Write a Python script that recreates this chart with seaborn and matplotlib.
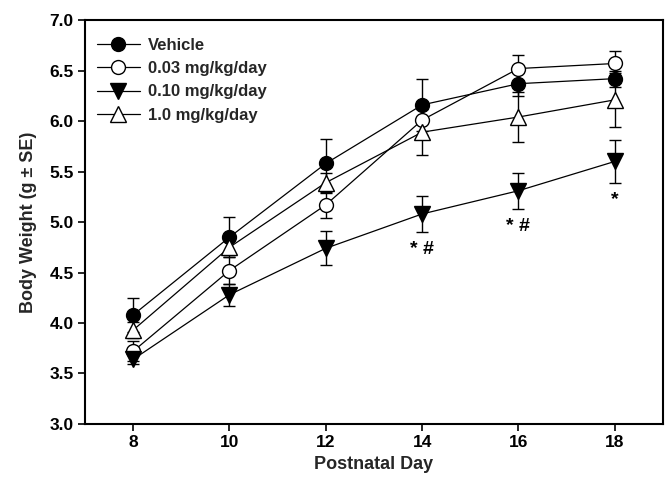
import numpy as np
import pandas as pd
import matplotlib
matplotlib.use("Agg")
import matplotlib.pyplot as plt
import seaborn as sns
from matplotlib.lines import Line2D

# Postnatal days and group body weights (g) with standard errors
days = [8, 10, 12, 14, 16, 18]
groups = ["Vehicle", "0.03 mg/kg/day", "0.10 mg/kg/day", "1.0 mg/kg/day"]
vehicle = [4.08, 4.85, 5.58, 6.16, 6.37, 6.42]
vehicle_se = [0.17, 0.20, 0.24, 0.26, 0.12, 0.08]
dose_003 = [3.72, 4.52, 5.17, 6.01, 6.52, 6.57]
dose_003_se = [0.10, 0.13, 0.13, 0.15, 0.13, 0.12]
dose_010 = [3.64, 4.28, 4.74, 5.08, 5.31, 5.60]
dose_010_se = [0.05, 0.11, 0.17, 0.18, 0.18, 0.21]
dose_10 = [3.93, 4.75, 5.39, 5.89, 6.04, 6.21]
dose_10_se = [0.08, 0.08, 0.10, 0.23, 0.25, 0.27]

# Significance marks below the 0.10 mg/kg/day group
sig_days = [14, 16, 18]
sig_labels = ["* #", "* #", "*"]

sns.set_theme(style="ticks")
plt.rcParams["font.family"] = ["Liberation Sans", "DejaVu Sans"]
plt.rcParams["font.weight"] = "bold"

fig = plt.figure(figsize=(6.67, 4.78), dpi=100)
ax = fig.add_axes([0.1274, 0.113, 0.8666, 0.845])

series = [
    (groups[0], vehicle, vehicle_se, "o", "black"),
    (groups[1], dose_003, dose_003_se, "o", "white"),
    (groups[2], dose_010, dose_010_se, "v", "black"),
    (groups[3], dose_10, dose_10_se, "^", "white"),
]

frames = []
for name, vals, se, _, _ in series:
    frames.append(pd.DataFrame({"day": days, "weight": vals, "se": se, "group": name}))
df = pd.concat(frames, ignore_index=True)

handles = []
for i, (name, vals, se, mk, fc) in enumerate(series):
    sub = df[df["group"] == name]
    ms = 10 if mk == "o" else 11
    ax.errorbar(sub["day"], sub["weight"], yerr=sub["se"], fmt="none",
                ecolor="black", elinewidth=1.0, capsize=4.5, capthick=1.0,
                zorder=2 + i * 0.1)
    sns.lineplot(data=sub, x="day", y="weight", ax=ax, color="black",
                 linewidth=0.9, marker=mk, markersize=ms,
                 markerfacecolor=fc, markeredgecolor="black",
                 markeredgewidth=1.0, errorbar=None, legend=False,
                 zorder=3 + i * 0.1)
    handles.append(Line2D([0], [0], color="black", linewidth=0.9, marker=mk,
                          markersize=ms, markerfacecolor=fc,
                          markeredgecolor="black", markeredgewidth=1.0))

for d, lab in zip(sig_days, sig_labels):
    idx = days.index(d)
    y = dose_010[idx] - dose_010_se[idx] - 0.17
    ax.text(d, y, lab, ha="center", va="center", fontsize=14,
            fontweight="bold", color="black")

ax.set_xlim(7, 19)
ax.set_ylim(3.0, 7.0)
ax.set_xticks(days)
yt = np.arange(3.0, 7.01, 0.5)
ax.set_yticks(yt)
ax.set_yticklabels([f"{v:.1f}" for v in yt])
ax.tick_params(axis="both", labelsize=12.5, width=1.2, length=5,
               direction="out", colors="black", pad=3)
for lab in ax.get_xticklabels() + ax.get_yticklabels():
    lab.set_fontweight("bold")

for side in ["top", "right", "left", "bottom"]:
    ax.spines[side].set_visible(True)
    ax.spines[side].set_linewidth(1.5)
    ax.spines[side].set_color("black")

ax.set_xlabel("Postnatal Day", fontsize=13, fontweight="bold", labelpad=4)
ax.set_ylabel("Body Weight (g \u00b1 SE)", fontsize=13, fontweight="bold",
              labelpad=9)

leg = ax.legend(handles, groups, loc="upper left", frameon=False,
                fontsize=12, handlelength=2.6, handletextpad=0.5,
                labelspacing=0.5, borderaxespad=0.3,
                bbox_to_anchor=(0.0, 0.985))
for t in leg.get_texts():
    t.set_fontweight("bold")

fig.savefig("out.png", dpi=100)
